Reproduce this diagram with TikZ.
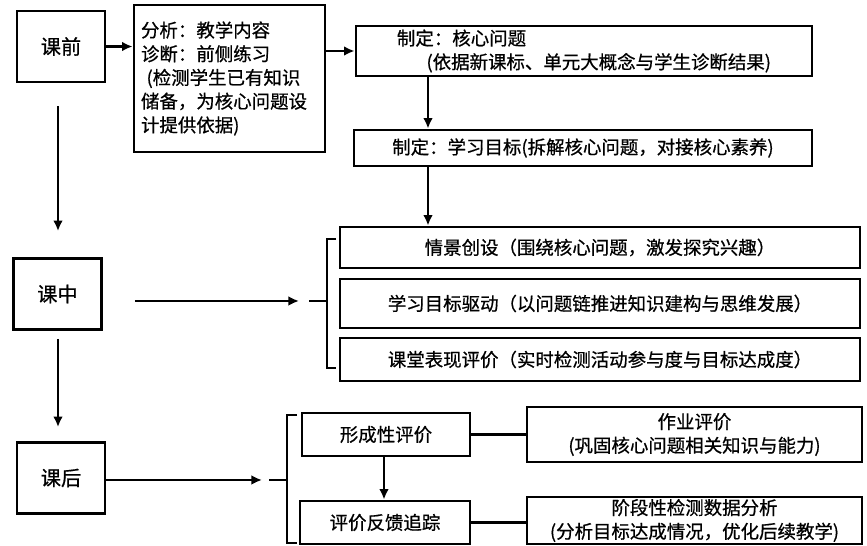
\documentclass[tikz,border=0pt]{standalone}
\usepackage{fontspec}
\newfontfamily\cjk[FakeBold=0.7]{Noto Sans CJK SC}
\usetikzlibrary{arrows.meta}
\newcommand{\pxu}{0.02cm}
\tikzset{
  box/.style={draw, line width=1.6pt, inner sep=0pt, font=\cjk\fontsize{10.5pt}{13.5pt}\selectfont},
  phase/.style={box, font=\cjk\fontsize{11.5pt}{14pt}\selectfont, minimum width=88*\pxu, minimum height=71*\pxu},
  arr/.style={line width=1.3pt, -{Latex[length=6pt,width=5.5pt]}},
  link/.style={line width=1.3pt},
}
\begin{document}
\begin{tikzpicture}[x=\pxu, y=-\pxu]
    \useasboundingbox (0,0) rectangle (867,546);
    % 课前
    \node[phase] (pre) at (61,46.5) {课前};
    \node[box, minimum width=191*\pxu, minimum height=147*\pxu, text width=177*\pxu, align=left] (ana) at (229.5,78.5)
        {分析：教学内容\\诊断：前侧练习\\\hspace{0.3em}(检测学生已有知识\\储备，为核心问题设\\计提供依据)};
    \node[box, minimum width=456*\pxu, minimum height=50*\pxu, align=left] (core) at (584,51)
        {制定：核心问题\\\hspace{1.6em}(依据新课标、单元大概念与学生诊断结果)};
    \node[box, minimum width=458*\pxu, minimum height=36*\pxu] (goal) at (583,148)
        {制定：学习目标(拆解核心问题，对接核心素养)};
    \draw[arr] (pre.east) -- (pre.east -| ana.west);
    \draw[arr] (ana.east |- core.west) -- (core.west);
    \coordinate (ax) at (428,0);
    \draw[arr] (core.south -| ax) -- (goal.north -| ax);
    % 课中
    \node[phase] (mid) at (57.5,294) {课中};
    \node[box, minimum width=520*\pxu, minimum height=41*\pxu] (scene) at (600,247.5)
        {情景创设（围绕核心问题，激发探究兴趣）};
    \node[box, minimum width=520*\pxu, minimum height=49*\pxu] (drive) at (600,303.5)
        {学习目标驱动（以问题链推进知识建构与思维发展）};
    \node[box, minimum width=520*\pxu, minimum height=43*\pxu] (eval) at (600,359.5)
        {课堂表现评价（实时检测活动参与度与目标达成度）};
    \draw[arr] (goal.south -| ax) -- (scene.north -| ax);
    \coordinate (br1) at (327,301);
    \coordinate (tip1) at (299,301);
    \draw[link] (336,239) -- (327,239) -- (327,368) -- (336,368);
    \draw[link] (309,301) -- (br1);
    \draw[arr, shorten <=0.64cm] (mid.east |- tip1) -- (tip1);
    % 课后
    \node[phase] (post) at (61,478) {课后};
    \node[box, minimum width=168*\pxu, minimum height=43*\pxu] (form) at (386,434.5) {形成性评价};
    \node[box, minimum width=170*\pxu, minimum height=43*\pxu] (track) at (385,522.5) {评价反馈追踪};
    \node[box, minimum width=335*\pxu, minimum height=55*\pxu, align=center] (hw) at (694.5,434.5)
        {作业评价\\(巩固核心问题相关知识与能力)};
    \node[box, minimum width=335*\pxu, minimum height=47*\pxu, align=center] (stg) at (694.5,520.5)
        {阶段性检测数据分析\\(分析目标达成情况，优化后续教学)};
    \coordinate (br2) at (287,480);
    \coordinate (tip2) at (262,480);
    \draw[link] (297,415) -- (287,415) -- (287,543) -- (297,543);
    \draw[link] (269,480) -- (br2);
    \draw[arr] (post.east |- tip2) -- (tip2);
    \draw[link] (form.east) -- (hw.west);
    \draw[link] (track.east) -- (track.east -| stg.west);
    \coordinate (ax2) at (384,0);
    \draw[arr] (form.south -| ax2) -- (track.north -| ax2);
    % left column
    \coordinate (ay) at (58,0);
    \draw[arr, shorten <=0.46cm, shorten >=0.52cm] (pre.south -| ay) -- (mid.north -| ay);
    \draw[arr, shorten <=0.16cm, shorten >=0.28cm] (mid.south -| ay) -- (post.north -| ay);
\end{tikzpicture}
\end{document}
